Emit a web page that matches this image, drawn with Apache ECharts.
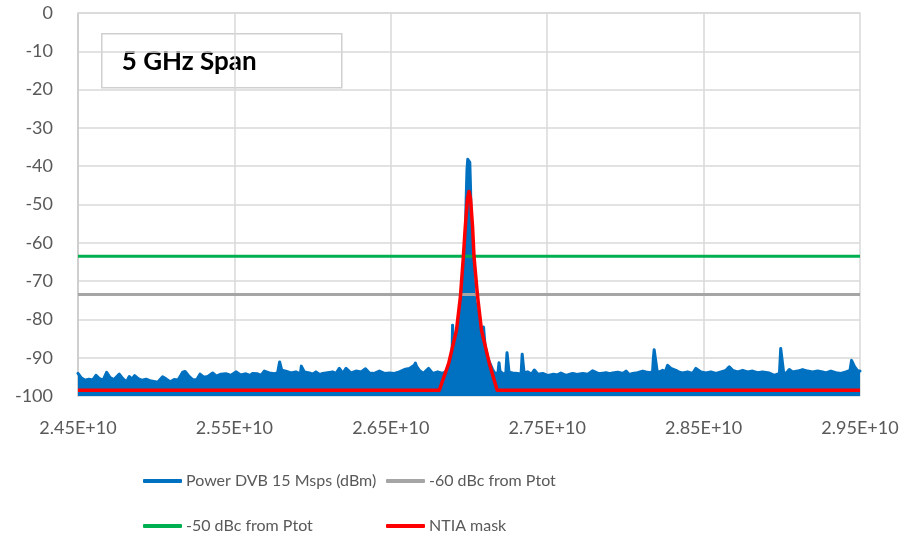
<!DOCTYPE html>
<html>
<head>
<meta charset="utf-8">
<script src="https://cdn.jsdelivr.net/npm/echarts@6/dist/echarts.min.js"></script>
<style>
html,body{margin:0;padding:0;background:#fff;}
#chart{width:907px;height:539px;}
</style>
</head>
<body>
<div id="chart"></div>
<script>
// ---- data (frequency in GHz, power in dBm) ----
const xTickLabels = ['2.45E+10','2.55E+10','2.65E+10','2.75E+10','2.85E+10','2.95E+10'];
const freqStartGHz = 24.5;

const powerFreq = [
  24.500,24.520,24.545,24.570,24.595,24.615,24.635,24.660,24.683,24.705,24.730,24.764,24.785,24.810,24.828,24.845,24.862,24.885,24.910,24.935,24.960,24.985,25.010,25.041,25.065,25.090,25.115,25.140,25.169,25.185,25.210,25.235,25.260,25.280,25.305,25.330,
  25.361,25.385,25.414,25.446,25.478,25.510,25.540,25.574,25.600,25.616,25.648,25.670,25.691,25.723,25.755,25.776,25.785,25.789,25.797,25.803,25.829,25.861,25.893,25.922,25.928,25.935,25.947,25.979,26.000,26.021,26.045,26.064,26.096,26.128,26.150,
  26.171,26.193,26.214,26.246,26.278,26.310,26.338,26.363,26.395,26.427,26.459,26.491,26.523,26.555,26.587,26.619,26.650,26.657,26.665,26.683,26.708,26.742,26.768,26.800,26.832,26.850,
  26.864,26.875,26.885,26.892,26.895,26.899,26.903,26.915,26.925,26.940,26.955,26.965,26.974,26.981,26.987,26.992,27.000,27.005,27.010,27.017,27.025,27.034,27.050,27.070,27.085,27.093,27.098,27.103,27.120,27.134,27.150,27.166,
  27.185,27.192,27.198,27.215,27.235,27.243,27.250,27.256,27.279,27.311,27.333,27.340,27.346,27.352,27.375,27.400,27.418,27.440,27.471,27.495,27.514,27.540,27.565,27.588,27.620,27.645,27.663,27.690,27.727,27.760,27.791,27.825,
  27.844,27.876,27.900,27.919,27.951,27.983,28.004,28.025,28.046,28.078,28.110,28.132,28.160,28.174,28.179,28.184,28.196,28.203,28.221,28.238,28.255,28.270,28.291,28.323,28.345,28.366,28.398,28.430,28.451,28.483,28.515,28.547,28.579,28.611,28.643,
  28.664,28.686,28.718,28.750,28.782,28.813,28.845,28.877,28.920,28.952,28.985,28.993,29.005,29.012,29.030,29.048,29.069,29.101,29.133,29.165,29.197,29.229,29.261,29.282,29.314,29.346,29.378,29.410,29.436,29.446,29.456,29.466,29.487,29.500
];
const powerDbm = [
  -94.1,-95.2,-95.9,-95.6,-95.8,-94.6,-95.4,-95.9,-93.8,-95.2,-95.7,-94.3,-95.4,-96.3,-94.9,-95.6,-94.7,-95.5,-95.9,-95.6,-96.0,-96.2,-96.4,-95.0,-95.6,-96.3,-95.7,-95.8,-93.8,-93.6,-94.9,-95.8,-95.7,-94.3,-95.1,-94.9,
  -94.0,-94.8,-94.3,-94.2,-94.6,-93.7,-94.5,-94.2,-94.6,-94.1,-94.2,-94.6,-93.5,-94.0,-94.2,-94.0,-93.8,-91.1,-91.2,-93.3,-93.5,-94.0,-93.7,-94.2,-92.2,-92.3,-93.7,-94.0,-94.3,-93.7,-94.4,-94.1,-93.9,-93.7,-94.1,
  -92.8,-94.1,-92.8,-94.0,-93.5,-93.7,-92.9,-94.0,-94.1,-93.5,-94.1,-94.0,-94.1,-93.7,-93.1,-92.8,-92.0,-91.4,-92.3,-93.3,-94.1,-92.8,-94.1,-93.7,-94.1,-93.7,
  -92.8,-92.5,-90.5,-88.5,-81.5,-82.0,-87.2,-84.5,-82.0,-78.5,-74.5,-70.0,-63.6,-50.0,-41.0,-38.2,-38.0,-39.0,-46.0,-62.0,-68.0,-74.1,-78.0,-82.8,-85.5,-82.0,-81.8,-87.0,-90.0,-91.5,-93.0,-94.1,
  -94.0,-91.3,-93.5,-94.1,-94.3,-88.7,-88.8,-93.8,-94.0,-94.1,-94.3,-89.1,-89.2,-93.9,-93.7,-94.3,-93.2,-94.3,-94.1,-94.5,-94.6,-94.3,-94.5,-94.0,-94.6,-94.3,-94.1,-94.4,-94.1,-94.3,-93.4,-94.1,
  -94.1,-93.9,-94.2,-94.0,-93.8,-94.1,-93.5,-94.4,-94.1,-93.9,-93.5,-93.7,-93.9,-93.5,-90.0,-87.9,-88.1,-93.5,-93.7,-93.3,-93.7,-92.0,-92.8,-93.3,-93.8,-94.0,-93.7,-94.1,-92.8,-93.7,-94.0,-93.7,-94.1,-93.7,-93.3,
  -92.4,-93.3,-93.7,-93.3,-93.7,-93.5,-93.9,-93.7,-94.0,-94.6,-94.1,-87.6,-87.6,-94.0,-94.0,-93.1,-93.7,-93.5,-93.1,-93.5,-93.7,-93.5,-93.7,-94.0,-93.5,-93.9,-94.1,-93.7,-93.3,-90.7,-90.8,-92.4,-93.5,-93.5
];

const maskFreq  = [24.5, 26.81, 26.87, 26.92, 26.945, 26.964, 26.976, 26.99, 27.0, 27.01, 27.023, 27.032, 27.055, 27.08, 27.13, 27.18, 29.5];
const maskLevel = [-98.5, -98.5, -91.5, -82.8, -74.1, -63.6, -56.0, -48.5, -46.6, -48.5, -56.0, -63.6, -74.1, -82.8, -91.5, -98.5, -98.5];

const refFreq = [24.5, 29.5];
const minus60Level = [-73.5, -73.5];
const minus50Level = [-63.5, -63.5];

const seriesNames = ['Power DVB 15 Msps (dBm)', '-60 dBc from Ptot', '-50 dBc from Ptot', 'NTIA mask'];
const annotationText = '5 GHz Span';

// ---- build ----
const toPairs = (fs, vs) => fs.map((f, i) => [f - freqStartGHz, vs[i]]);
const FONT = 'Lato, "Open Sans", sans-serif';
const chart = echarts.init(document.getElementById('chart'), null, {renderer: 'canvas'});

const legendBase = {
  orient: 'horizontal', padding: 0, itemWidth: 39, itemHeight: 4, icon: 'roundRect',
  selectedMode: false, itemGap: 4,
  textStyle: {color: '#595959', fontSize: 16, fontFamily: FONT, lineHeight: 20, padding: [0,0,0,-1]}
};

chart.setOption({
  animation: false,
  backgroundColor: '#fff',
  grid: {left: 78, right: 47, top: 13, bottom: 143, containLabel: false},
  xAxis: {
    type: 'value', min: 0, max: 5, interval: 1,
    axisLine: {show: true, lineStyle: {color: '#D9D9D9', width: 1.5}},
    axisTick: {show: false},
    splitLine: {show: true, lineStyle: {color: '#D9D9D9', width: 1.5}},
    axisLabel: {
      color: '#595959', fontSize: 18, fontFamily: FONT, margin: 23,
      formatter: v => xTickLabels[Math.round(v)] || ''
    }
  },
  yAxis: {
    type: 'value', min: -100, max: 0, interval: 10,
    axisLine: {show: true, lineStyle: {color: '#C8C8C8', width: 1.5}},
    axisTick: {show: false},
    splitLine: {show: true, lineStyle: {color: '#D9D9D9', width: 1.5}},
    axisLabel: {color: '#595959', fontSize: 18, fontFamily: FONT, margin: 25}
  },
  legend: [
    Object.assign({}, legendBase, {data: [seriesNames[0]], left: 143, top: 471}),
    Object.assign({}, legendBase, {data: [seriesNames[1]], left: 386, top: 471}),
    Object.assign({}, legendBase, {data: [seriesNames[2]], left: 143, top: 516}),
    Object.assign({}, legendBase, {data: [seriesNames[3]], left: 386, top: 516})
  ],
  graphic: [{
    type: 'group', left: 101, top: 33,
    children: [
      {type: 'rect', shape: {x: 0, y: 0, width: 240, height: 54},
       style: {fill: '#fff', stroke: '#D0D0D0', lineWidth: 1.5}},
      {type: 'text', x: 20, y: 28,
       style: {text: annotationText, fill: '#000', font: 'bold 26px ' + FONT, verticalAlign: 'middle', align: 'left'}}
    ]
  }],
  series: [
    {
      name: seriesNames[0], type: 'line', data: toPairs(powerFreq, powerDbm),
      showSymbol: false, symbol: 'none', color: '#0070C0',
      lineStyle: {color: '#0070C0', width: 3, join: 'round', cap: 'round'},
      areaStyle: {color: '#0070C0', opacity: 1, origin: 'start'},
      z: 2
    },
    {
      name: seriesNames[1], type: 'line', data: toPairs(refFreq, minus60Level),
      showSymbol: false, symbol: 'none', color: '#A5A5A5',
      lineStyle: {color: '#A5A5A5', width: 3}, z: 3
    },
    {
      name: seriesNames[2], type: 'line', data: toPairs(refFreq, minus50Level),
      showSymbol: false, symbol: 'none', color: '#00B050',
      lineStyle: {color: '#00B050', width: 3}, z: 3
    },
    {
      name: seriesNames[3], type: 'line', data: toPairs(maskFreq, maskLevel),
      showSymbol: false, symbol: 'none', color: '#FF0000',
      lineStyle: {color: '#FF0000', width: 3.5, join: 'round'}, z: 4
    }
  ]
});
</script>
</body>
</html>
